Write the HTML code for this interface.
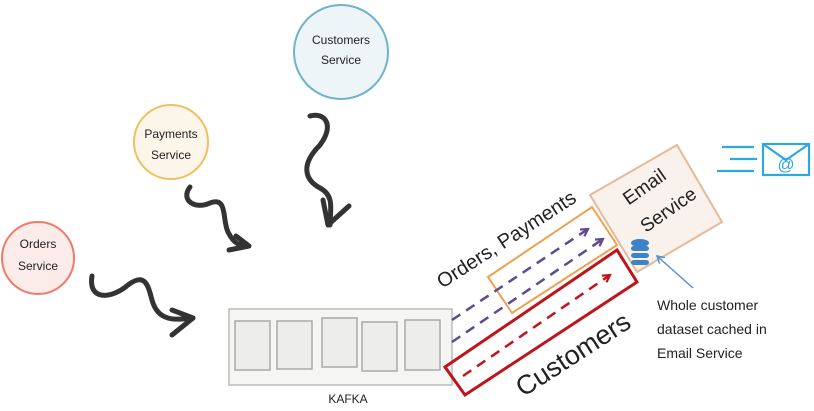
<!DOCTYPE html>
<html><head><meta charset="utf-8"><style>
html,body{margin:0;padding:0;background:#fff;width:814px;height:411px;overflow:hidden}
svg{display:block}
text{font-family:"Liberation Sans",sans-serif;fill:#222}
</style></head><body>
<svg width="814" height="411" viewBox="0 0 814 411" xmlns="http://www.w3.org/2000/svg">
<defs>
<marker id="pa" markerWidth="10" markerHeight="10" refX="8" refY="5" orient="auto" markerUnits="userSpaceOnUse"><path d="M1,1 L8,5 L1,9" fill="none" stroke="#5e4a8e" stroke-width="2.2"/></marker>
<marker id="ra" markerWidth="10" markerHeight="10" refX="8" refY="5" orient="auto" markerUnits="userSpaceOnUse"><path d="M1,1 L8,5 L1,9" fill="none" stroke="#c0141c" stroke-width="2.2"/></marker>
<marker id="ba" markerWidth="10" markerHeight="10" refX="8" refY="5" orient="auto" markerUnits="userSpaceOnUse"><path d="M1,1 L8,5 L1,9" fill="none" stroke="#5b8fd6" stroke-width="1.5"/></marker>
</defs>
<!-- circles -->
<circle cx="341" cy="52" r="47" fill="#edf5f8" stroke="#6db3cc" stroke-width="2"/>
<text x="341" y="44" font-size="12" text-anchor="middle">Customers</text>
<text x="341" y="64" font-size="12" text-anchor="middle">Service</text>
<circle cx="171" cy="142" r="37" fill="#fcf6ea" stroke="#f0c060" stroke-width="2"/>
<text x="171" y="138" font-size="12" text-anchor="middle">Payments</text>
<text x="171" y="159" font-size="12" text-anchor="middle">Service</text>
<circle cx="38" cy="258" r="36" fill="#fbecea" stroke="#f07a6a" stroke-width="2"/>
<text x="38" y="248" font-size="12" text-anchor="middle">Orders</text>
<text x="38" y="270" font-size="12" text-anchor="middle">Service</text>
<!-- squiggles -->
<g fill="none" stroke="#333" stroke-width="5" stroke-linecap="round" stroke-linejoin="round">
<path d="M92,276 C88,300 110,300 128,285 C145,272 148,285 152,300 C158,322 175,320 193,318"/>
<path d="M172,310 L193,318 L172,335"/>
<path d="M190,187 C180,200 195,210 210,203 C228,196 222,220 228,232 C234,244 240,246 248,246"/>
<path d="M236,236 L249,246 L229,250"/>
<path d="M310,116 C325,112 335,125 320,145 C300,165 305,180 320,188 C335,196 330,210 330,225"/>
<path d="M323,200 L328,225 L349,206"/>
</g>
<!-- kafka -->
<rect x="229" y="309" width="223" height="76" fill="#f5f5f3" stroke="#bbb" stroke-width="1.5"/>
<g fill="#ededeb" stroke="#aaa" stroke-width="1.5">
<rect x="235" y="321" width="35" height="49"/>
<rect x="277" y="321" width="35" height="48"/>
<rect x="322" y="318" width="35" height="49"/>
<rect x="362" y="322" width="35" height="49"/>
<rect x="405" y="320" width="35" height="50"/>
</g>
<text x="348" y="403" font-size="12" text-anchor="middle">KAFKA</text>
<!-- email service -->
<polygon points="590,195 677,145 722,222 637,272" fill="#f8f1ec" stroke="#e6b998" stroke-width="2"/>
<text transform="translate(648,192) rotate(-35)" font-size="19" text-anchor="middle">Email</text>
<text transform="translate(672,215) rotate(-35)" font-size="19" text-anchor="middle">Service</text>
<!-- db icon -->
<g fill="#3d82c4">
<ellipse cx="640" cy="243" rx="9" ry="4"/>
<rect x="631" y="246" width="18" height="5" rx="3"/>
<rect x="631" y="253" width="18" height="5" rx="3"/>
<rect x="631" y="260" width="18" height="5" rx="3"/>
</g>
<line x1="693" y1="288" x2="657" y2="256" stroke="#5b8fd6" stroke-width="1.5" marker-end="url(#ba)"/>
<!-- orange rect -->
<polygon points="488,277 592,207 617,245 512,313" fill="none" stroke="#f0a050" stroke-width="2"/>
<!-- red rect -->
<polygon points="445,367 617,250 637,282 465,395" fill="none" stroke="#c0141c" stroke-width="3"/>
<!-- dashed arrows -->
<line x1="452" y1="320" x2="588" y2="229" stroke="#5e4a8e" stroke-width="2.5" stroke-dasharray="10,7" marker-end="url(#pa)"/>
<line x1="452" y1="342" x2="603" y2="239" stroke="#5e4a8e" stroke-width="2.5" stroke-dasharray="10,7" marker-end="url(#pa)"/>
<line x1="463" y1="376" x2="610" y2="275" stroke="#c0141c" stroke-width="2.5" stroke-dasharray="10,7" marker-end="url(#ra)"/>
<text transform="translate(510,245) rotate(-33)" font-size="20" text-anchor="middle">Orders, Payments</text>
<text transform="translate(578,362) rotate(-33)" font-size="27" text-anchor="middle">Customers</text>
<!-- note -->
<text x="657" y="310" font-size="14">Whole customer</text>
<text x="657" y="334" font-size="14">dataset cached in</text>
<text x="657" y="358" font-size="14">Email Service</text>
<!-- mail icon -->
<g stroke="#2fa8df" stroke-width="2.2" fill="none">
<line x1="722" y1="147" x2="754" y2="147"/>
<line x1="730" y1="159" x2="757" y2="159"/>
<line x1="717" y1="171" x2="754" y2="171"/>
<rect x="763" y="144" width="46" height="31"/>
<path d="M763,144 L786,160 L809,144"/>
</g>
<text x="786" y="170" font-size="17" text-anchor="middle" style="fill:#2fa8df">@</text>
</svg>
</body></html>
